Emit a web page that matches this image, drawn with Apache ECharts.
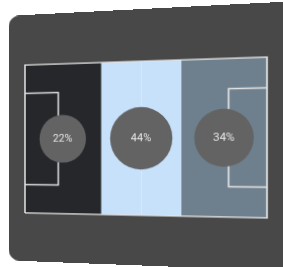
<!DOCTYPE html>
<html>
<head>
<meta charset="utf-8">
<script src="https://cdn.jsdelivr.net/npm/echarts@6/dist/echarts.min.js"></script>
<style>
  html, body { margin: 0; padding: 0; background: #fff; width: 283px; height: 267px; overflow: hidden; }
  #card {
    position: absolute; left: 0; top: 0; width: 290px; height: 256px;
    background: #484848; border-radius: 12px; transform-origin: 0 0;
  }
</style>
</head>
<body>
<div id="card"></div>
<script>
// 场地三区控球占比
var zoneNames = ['后场', '中场', '前场'];
var zoneStart = [0, 35, 70];
var zoneEnd = [35, 70, 105];
var shares = [22, 44, 34];

// 场地线 (米)
var pitchLength = 105;
var pitchWidth = 68;
var boxDepth = 15.5;
var boxTop = 55;
var boxBottom = 13;

(function () {
  var zoneColors = ['#25272b', '#c7e1fa', '#6e808e'];
  var lineColor = '#e2e2e2';

  // 透视效果：把平面卡片映射到照片里的四个角
  var src = [[18, 52], [260, 52], [260, 206], [18, 206]];
  var dst = [[25, 65], [267, 57], [267, 218], [25, 213]];
  function solve(A, b) {
    var n = b.length, i, j, k;
    for (i = 0; i < n; i++) A[i].push(b[i]);
    for (i = 0; i < n; i++) {
      var m = i;
      for (k = i + 1; k < n; k++) if (Math.abs(A[k][i]) > Math.abs(A[m][i])) m = k;
      var t = A[i]; A[i] = A[m]; A[m] = t;
      for (k = i + 1; k < n; k++) {
        var f = A[k][i] / A[i][i];
        for (j = i; j <= n; j++) A[k][j] -= f * A[i][j];
      }
    }
    var x = [];
    for (i = n - 1; i >= 0; i--) {
      var s = A[i][n];
      for (j = i + 1; j < n; j++) s -= A[i][j] * x[j];
      x[i] = s / A[i][i];
    }
    return x;
  }
  var A = [], b = [];
  for (var i = 0; i < 4; i++) {
    var u = src[i][0], v = src[i][1], X = dst[i][0], Y = dst[i][1];
    A.push([u, v, 1, 0, 0, 0, -u * X, -v * X]); b.push(X);
    A.push([0, 0, 0, u, v, 1, -u * Y, -v * Y]); b.push(Y);
  }
  var h = solve(A, b);
  var card = document.getElementById('card');
  card.style.transform = 'matrix3d(' + [h[0], h[3], 0, h[6], h[1], h[4], 0, h[7], 0, 0, 1, 0, h[2], h[5], 0, 1].join(',') + ')';

  var myChart = echarts.init(card);

  var zoneData = zoneNames.map(function (name, i) {
    return { name: name, value: [zoneStart[i], zoneEnd[i]] };
  });
  var bubbleData = zoneNames.map(function (name, i) {
    return { name: name, value: [(zoneStart[i] + zoneEnd[i]) / 2, pitchWidth / 2, shares[i]] };
  });

  var option = {
    animation: false,
    grid: { left: 18, top: 52, width: 242, height: 154 },
    xAxis: { type: 'value', min: 0, max: pitchLength, show: false },
    yAxis: { type: 'value', min: 0, max: pitchWidth, show: false },
    series: [
      {
        // 三个区域的底色
        type: 'custom',
        z: 1,
        data: zoneData,
        renderItem: function (params, api) {
          var p0 = api.coord([api.value(0), pitchWidth]);
          var p1 = api.coord([api.value(1), 0]);
          return {
            type: 'rect',
            shape: { x: p0[0], y: p0[1], width: p1[0] - p0[0], height: p1[1] - p0[1] },
            style: { fill: zoneColors[params.dataIndex] }
          };
        }
      },
      {
        // 中线
        type: 'lines',
        coordinateSystem: 'cartesian2d',
        z: 2,
        lineStyle: { color: '#dbe7f2', width: 1, opacity: 1 },
        data: [{ coords: [[pitchLength / 2, 0], [pitchLength / 2, pitchWidth]] }]
      },
      {
        // 边线和禁区
        type: 'lines',
        coordinateSystem: 'cartesian2d',
        polyline: true,
        z: 3,
        lineStyle: { color: lineColor, width: 1.6, opacity: 1 },
        data: [
          { coords: [[0, 0], [pitchLength, 0], [pitchLength, pitchWidth], [0, pitchWidth], [0, 0]] },
          { coords: [[0, boxTop], [boxDepth, boxTop], [boxDepth, boxBottom], [0, boxBottom]] },
          { coords: [[pitchLength, boxTop], [pitchLength - boxDepth, boxTop], [pitchLength - boxDepth, boxBottom], [pitchLength, boxBottom]] }
        ]
      },
      {
        // 占比气泡
        type: 'scatter',
        z: 4,
        data: bubbleData,
        symbolSize: function (val) {
          return 36 + 0.6 * val[2];
        },
        itemStyle: { color: '#636363', opacity: 1 },
        label: {
          show: true,
          position: 'inside',
          formatter: function (p) { return p.value[2] + '%'; },
          color: '#e6e6e6',
          fontSize: 11,
          fontFamily: 'Roboto'
        }
      }
    ]
  };
  myChart.setOption(option);
})();
</script>
</body>
</html>
